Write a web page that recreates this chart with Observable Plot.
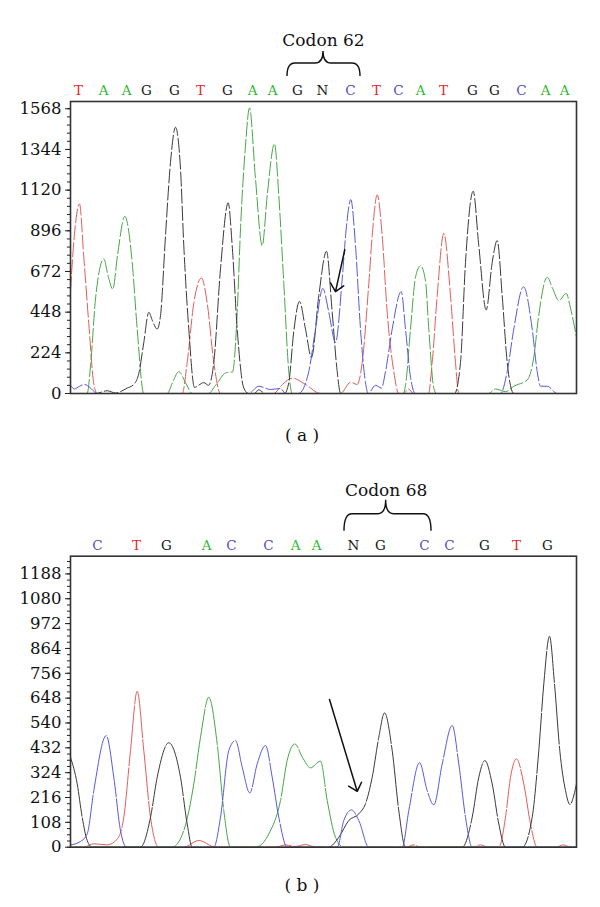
<!DOCTYPE html>
<html>
<head>
<meta charset="utf-8">
<script src="https://cdn.jsdelivr.net/npm/d3@7"></script>
<script src="https://cdn.jsdelivr.net/npm/@observablehq/plot@0.6"></script>
<style>
  body { margin: 0; background: #fff; }
  #wrap { position: relative; width: 600px; height: 907px; background: #fff; }
  .panel { position: absolute; left: 0; }
  .lab { position: absolute; left: 0; width: 604px; text-align: center; font-family: "DejaVu Serif", serif; font-size: 17px; color: #111; }
</style>
</head>
<body>
<div id="wrap"></div>
<script>
// ---------- Panel (a) data ----------
const ticksA = [0, 224, 448, 672, 896, 1120, 1344, 1568];
const seqA = ["T","A","A","G","G","T","G","A","A","G","N","C","T","C","A","T","G","G","C","A","A"];
const posA = [8, 33, 56, 76, 104, 130, 157, 182, 202, 227, 252, 280, 306, 328, 350, 373, 402, 424, 451, 475, 494];
const codonA = {label: "Codon 62", first: 9, last: 11};
const arrowA = [{x1: 274.3, y1: 792, x2: 265, y2: 561}];

const aRed = [[0,566],[4,880],[9,1044],[13.3,750],[18.3,384],[23.3,53],[26.7,0],[111.7,0],[116.7,171],[123.3,498],[131,636],[136.7,498],[143.3,171],[150,0],[203,0],[212,50],[221.7,85],[235,50],[250,0],[270,0],[280,62],[286.7,50],[291.7,171],[298.3,606],[301.7,869],[306.7,1094],[311.7,869],[316.7,447],[323.3,121],[328.3,0],[333,0],[338,25],[343,0],[358,0],[361.7,171],[366.7,539],[373.3,882],[380,539],[385,171],[388.3,0],[506,0]];
const aGreen = [[0,0],[16.7,0],[20,150],[25,520],[33.3,741],[37.5,650],[42.3,575],[47,760],[54.3,976],[61.7,722],[66.7,355],[73.3,0],[96.7,0],[102,60],[108.3,120],[115,60],[121.7,0],[138,0],[145,45],[156,115],[162,118],[166.7,447],[170,906],[175,1365],[179,1573],[185,1182],[191.7,814],[196.7,1090],[204,1375],[208.3,1090],[213.3,606],[218.3,121],[221.7,0],[333,0],[335,45],[340,355],[345,640],[350,704],[355,620],[358.3,355],[363.3,30],[366,0],[418,0],[425,25],[435,10],[443.3,40],[456.7,75],[463.3,200],[468,420],[476.7,640],[482,580],[488.3,511],[495.7,551],[500,470],[505.7,318]];
const aBlack = [[0,0],[25,0],[36.7,15],[45,3],[56.7,30],[63.3,50],[68.3,110],[73.3,281],[78.3,447],[82,400],[86.7,355],[90,428],[95,869],[100,1273],[105,1466],[110,1236],[113.3,814],[118.3,355],[124,33],[128,45],[133.3,60],[138,45],[143.3,171],[150,686],[157.7,1050],[161.7,814],[166.7,355],[173.3,30],[178,0],[184,0],[188,20],[195,0],[214,0],[218.3,60],[223.3,343],[229,507],[235,355],[241,198],[248.3,539],[256,783],[261.7,447],[266.7,121],[270,0],[384,0],[390,171],[395,722],[402.7,1114],[408.3,814],[415.7,460],[421.7,722],[426.7,842],[431.7,539],[436.7,171],[443.3,0],[506,0]];
const aBlue = [[0,45],[4,25],[9,40],[14.3,50],[20,30],[26.7,0],[178,0],[188.3,40],[200,22],[210,28],[215,0],[228,0],[238.3,121],[245,355],[252.3,579],[258.3,447],[265,281],[271.7,631],[275.7,906],[280.3,1068],[285,814],[290,355],[295,60],[297.7,0],[305,45],[311,30],[315,121],[321.7,355],[330.7,561],[335,355],[340,90],[345,0],[430,0],[436.7,121],[443.3,355],[453,588],[461.7,355],[466.7,121],[470,40],[476.7,40],[486.7,0],[506,0]];

// ---------- Panel (b) data ----------
const ticksB = [0, 108, 216, 324, 432, 540, 648, 756, 864, 972, 1080, 1188];
const seqB = ["C","T","G","A","C","C","A","A","N","G","C","C","G","T","G"];
const posB = [27, 66, 96, 136, 161, 198, 225, 246, 283, 310, 354, 379, 414, 446, 477];
const codonB = {label: "Codon 68", first: 8, last: 10};
const arrowB = [{x1: 259, y1: 642, x2: 286.7, y2: 243}];

const bRed = [[0,0],[13.3,0],[23.3,15],[36.7,10],[46.7,35],[53.3,130],[60,420],[66.7,678],[73.3,420],[80,130],[88.3,0],[113,0],[128.3,29],[145,0],[205,0],[215,10],[225,3],[235,12],[245,0],[336,0],[343,10],[350,0],[402,0],[410,10],[418,0],[428.3,0],[435,130],[440,304],[446,384],[453.3,275],[460,101],[466.7,0],[485,0],[493,10],[500,0],[506,0]];
const bGreen = [[0,0],[101.7,0],[113.3,72],[123.3,275],[130,478],[138.3,652],[146.7,449],[153.3,159],[160,0],[185,0],[198.3,58],[210,203],[216.7,377],[224.3,449],[232,390],[240,345],[250,374],[256.7,203],[265,43],[273.3,0],[506,0]];
const bBlack = [[0,391],[6.7,275],[11.7,130],[16.7,29],[21.7,0],[70,0],[80,130],[86.7,304],[98.3,454],[110,304],[116.7,101],[121.7,0],[258,0],[268.3,43],[278.3,116],[288.3,145],[295,189],[301.7,304],[308.3,478],[314,584],[321.7,420],[328.3,159],[335,0],[391.7,0],[401.7,130],[408.3,304],[414.3,377],[421.7,275],[428.3,101],[435,0],[451.7,0],[461.7,130],[468.3,420],[473.3,710],[479,917],[484,710],[489.3,420],[495,246],[499.3,186],[506,276]];
const bBlue = [[0,10],[10,25],[16.7,58],[23.3,246],[35.7,485],[43.3,304],[50,72],[56,0],[143.3,0],[150,130],[158.3,420],[165,464],[171.7,348],[179.3,236],[186.7,362],[195,442],[201.7,304],[208.3,130],[216.7,0],[266.7,0],[273.3,116],[281,162],[288.3,116],[298.3,0],[331.7,0],[338.3,159],[349,367],[356.7,246],[363.3,184],[371.7,362],[381.7,529],[388.3,362],[395,130],[401.7,0],[506,0]];

// ---------- styling ----------
const traceColor = {red: "#e25c5c", green: "#47a647", black: "#3a3a3a", blue: "#5858dc"};
const letterColor = {T: "#e3262a", A: "#2fb82f", C: "#4d4dc8", G: "#151515", N: "#151515"};
const serif = "'DejaVu Serif', serif";

function panel(cfg) {
  const minor = d3.range(0, cfg.yMax + 1e-6, cfg.minorStep);
  const traces = [["red", cfg.red], ["green", cfg.green], ["black", cfg.black], ["blue", cfg.blue]];
  const center = d3.mean(cfg.pos.slice(cfg.codon.first, cfg.codon.last + 1));
  const marks = [
    ...traces.map(([c, pts]) => Plot.line(pts, {
      x: d => d[0], y: d => d[1], curve: "monotone-x",
      stroke: traceColor[c], strokeWidth: 1, strokeDasharray: cfg.dash
    })),
    Plot.frame({stroke: "#333", strokeWidth: 1.6}),
    Plot.axisY(minor, {anchor: "left", tickSize: 3, tickFormat: () => "", label: null, stroke: "#222"}),
    Plot.axisY(cfg.ticks, {anchor: "left", tickSize: 5, tickPadding: 4, label: null, tickFormat: d => String(d), fontSize: 16.5, stroke: "#222", fill: "#111"}),
    Plot.text(cfg.seq, {x: (d, i) => cfg.pos[i], text: d => d, fill: d => letterColor[d], frameAnchor: "top", dy: -16, fontSize: 13.5}),
    Plot.text([cfg.codon.label], {x: () => center, text: d => d, frameAnchor: "top", dy: cfg.labelDy, fontSize: 17, fill: "#111"}),
    Plot.arrow(cfg.arrow, {x1: "x1", y1: "y1", x2: "x2", y2: "y2", stroke: "#111", strokeWidth: 1.5, headLength: 10, headAngle: 85})
  ];
  const plot = Plot.plot({
    width: 600, height: cfg.height,
    marginLeft: 70, marginRight: 24, marginTop: cfg.marginTop, marginBottom: cfg.marginBottom,
    x: {domain: [0, 506], axis: null},
    y: {domain: [0, cfg.yMax]},
    color: {type: "identity"},
    style: {fontFamily: serif, fontSize: "16px", color: "#111", background: "transparent", overflow: "visible"},
    marks
  });
  // curly brace over the codon, placed through the plot's x scale
  const sx = plot.scale("x");
  const x1 = sx.apply(cfg.pos[cfg.codon.first]) - cfg.bracePad[0];
  const x2 = sx.apply(cfg.pos[cfg.codon.last]) + cfg.bracePad[1];
  const xm = sx.apply(center);
  const top = cfg.marginTop;
  const yb = top + cfg.brace[0], yh = top + cfg.brace[1], yt = top + cfg.brace[2];
  const r = 8;
  const path = `M${x1},${yb} Q${x1},${yh} ${x1 + r},${yh} L${xm - r},${yh} Q${xm},${yh} ${xm},${yt} Q${xm},${yh} ${xm + r},${yh} L${x2 - r},${yh} Q${x2},${yh} ${x2},${yb}`;
  d3.select(plot).append("path").attr("d", path).attr("fill", "none").attr("stroke", "#111").attr("stroke-width", 1.4);
  return plot;
}

const wrap = document.getElementById("wrap");

const pa = panel({
  red: aRed, green: aGreen, black: aBlack, blue: aBlue,
  ticks: ticksA, minorStep: 44.8, yMax: 1608,
  seq: seqA, pos: posA, codon: codonA, arrow: arrowA,
  height: 450, marginTop: 101, marginBottom: 57, dash: "14,3",
  labelDy: -68, brace: [-25, -38, -50], bracePad: [10, 10]
});
pa.classList.add("panel"); pa.style.top = "0px";
wrap.appendChild(pa);

const pb = panel({
  red: bRed, green: bGreen, black: bBlack, blue: bBlue,
  ticks: ticksB, minorStep: 27, yMax: 1265,
  seq: seqB, pos: posB, codon: codonB, arrow: arrowB,
  height: 457, marginTop: 105.7, marginBottom: 60.3, dash: "60,2",
  labelDy: -72, brace: [-25, -42, -56], bracePad: [9, 7]
});
pb.classList.add("panel"); pb.style.top = "450px";
wrap.appendChild(pb);

const la = document.createElement("div");
la.className = "lab"; la.style.top = "425px"; la.textContent = "( a )";
wrap.appendChild(la);
const lb = document.createElement("div");
lb.className = "lab"; lb.style.top = "875px"; lb.textContent = "( b )";
wrap.appendChild(lb);
</script>
</body>
</html>
